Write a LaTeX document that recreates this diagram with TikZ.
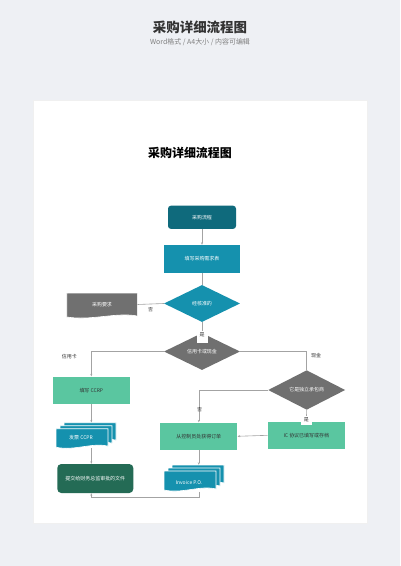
\documentclass[tikz,border=0pt]{standalone}
\usepackage{fontspec}
\setmainfont{Noto Sans CJK SC}
\usetikzlibrary{arrows.meta,shapes.geometric}
\definecolor{bgc}{HTML}{EEF0F4}
\definecolor{dteal}{HTML}{0F6A7C}
\definecolor{teal2}{HTML}{1591AE}
\definecolor{grayc}{HTML}{707070}
\definecolor{lgreen}{HTML}{5AC6A0}
\definecolor{dgreen}{HTML}{246B55}
\definecolor{linec}{HTML}{A3A3A3}
\definecolor{txtc}{HTML}{333333}
\newcommand\mydoc[5]{% x0,y0,w,h,color
  \filldraw[fill=#5,draw=white,line width=0.6bp] (#1,#2) -- ({#1+#3},#2) -- ({#1+#3},{#2+#4-2})
   .. controls ({#1+0.7*#3},{#2+#4-6}) and ({#1+0.35*#3},{#2+#4+3}) .. (#1,{#2+#4-1}) -- cycle;}
\tikzset{
  boxst/.style={minimum width=77bp, minimum height=27.5bp, inner sep=1bp, font=\fontsize{5}{6}\selectfont},
  dia/.style={diamond, minimum width=76bp, minimum height=37bp, inner sep=0bp, font=\fontsize{5}{6}\selectfont, text=white},
  conn/.style={draw=linec, line width=0.6bp},
  arr/.style={conn, -{Stealth[length=2.5bp,width=2bp]}},
  lbl/.style={font=\fontsize{5}{6}\selectfont, text=txtc, inner sep=1bp},
  notch/.style={lbl, fill=white, minimum width=11bp, inner sep=1.2bp},
  ghost/.style={inner sep=0bp, draw=none}
}
\begin{document}
\begin{tikzpicture}[x=1bp,y=-1bp]
\fill[bgc] (0,0) rectangle (400,566);
\useasboundingbox (0,0) rectangle (400,566);
\node[font=\fontsize{13.5}{15}\selectfont\bfseries, text=txtc] (htitle) at (200,27) {采购详细流程图};
\node[font=\fontsize{7}{8}\selectfont, text=black!50] (hsub) at (200,42) {Word格式 / A4大小 / 内容可编辑};
\filldraw[fill=white, draw=black!6] (32.7,100) rectangle (367,523);
\node[font=\fontsize{12}{14}\selectfont\bfseries, text=black] (ititle) at (190,153) {采购详细流程图};

% nodes
\node[boxst, fill=dteal, rounded corners=3bp, minimum width=68bp, minimum height=23.3bp, text=white] (start) at (202,217.3) {采购流程};
\node[boxst, fill=teal2, minimum width=76bp, minimum height=28bp, text=white] (form) at (202,259) {填写采购需求表};
\node[dia, fill=teal2] (d1) at (202,303.5) {经核准的};
\mydoc{66.7}{293}{70.6}{25}{grayc}
\node[ghost, minimum width=70.6bp, minimum height=25bp, text=white, font=\fontsize{5}{6}\selectfont] (req) at (102,304.5) {采购要求};
\node[dia, fill=grayc] (d2) at (202,351.5) {信用卡或现金};
\node[boxst, fill=lgreen, text=txtc] (ccrp) at (91.3,390.3) {填写 CCRP};
% stack CCPR
\mydoc{64}{422.7}{52}{19.5}{teal2}
\mydoc{60}{425.7}{52}{19.5}{teal2}
\mydoc{56}{428.7}{52}{19.5}{teal2}
\node[ghost, minimum width=60bp, minimum height=25.3bp] (ccpr) at (86,435.3) {};
\node[lbl, text=white] (ccprt) at (81,438) {发票 CCPR};
\node[boxst, fill=dgreen, rounded corners=4bp, minimum width=76bp, minimum height=29bp, text=white] (submit) at (95.3,478.5) {提交给财务总监审批的文件};
\node[dia, fill=grayc, minimum width=77bp, minimum height=38bp] (d3) at (306.7,390) {它是独立承包商};
\node[boxst, fill=lgreen, text=txtc] (ic) at (306.3,435.3) {IC 协议已填写或存档};
\node[boxst, fill=lgreen, text=txtc] (ctrl) at (198.8,436.3) {从控制员处获得订单};
% stack invoice
\mydoc{172}{465}{52}{20}{teal2}
\mydoc{168}{468}{52}{20}{teal2}
\mydoc{164}{471}{52}{20}{teal2}
\node[ghost, minimum width=60bp, minimum height=26.7bp] (inv) at (194,478.3) {};
\node[lbl, text=white] (invt) at (189,482.5) {Invoice P.O.};

% connectors
\draw[arr] (start.south) -- (form.north);
\draw[conn] (form.south) -- (d1.north);
\draw[conn] (d1.west) -- (req.east);
\node[lbl] (no1) at (150.7,309.5) {否};
\draw[conn] (d1.south) -- (d2.north);
\node[notch, anchor=north, text depth=5.5bp] (yes1) at (202,331) {是};
\draw[arr] (d2.west) -| (ccrp.north);
\node[lbl] (credit) at (69.3,356.7) {信用卡};
\draw[conn] (d2.east) -| (d3.north);
\node[lbl] (cash) at (316,355.7) {现金};
\draw[arr] (d3.west) -| (ctrl.north);
\node[lbl] (no2) at (199.7,410) {否};
\draw[conn] (d3.south) -- (ic.north);
\node[notch, anchor=north, text depth=2.5bp] (yes2) at (306.3,416) {是};
\draw[arr] (ic.west) -- (ctrl.east);
\draw[arr] (ctrl.south) -- (ctrl.south |- inv.north);
\draw[arr] (ccrp.south) -- (ccrp.south |- ccpr.north);
\draw[arr] (ccrp.south |- ccpr.south) -- (ccrp.south |- submit.north);
\draw[arr] (ctrl.south |- inv.south) -- ++(0,5) -| (ccrp.south |- submit.south);
\end{tikzpicture}
\end{document}
